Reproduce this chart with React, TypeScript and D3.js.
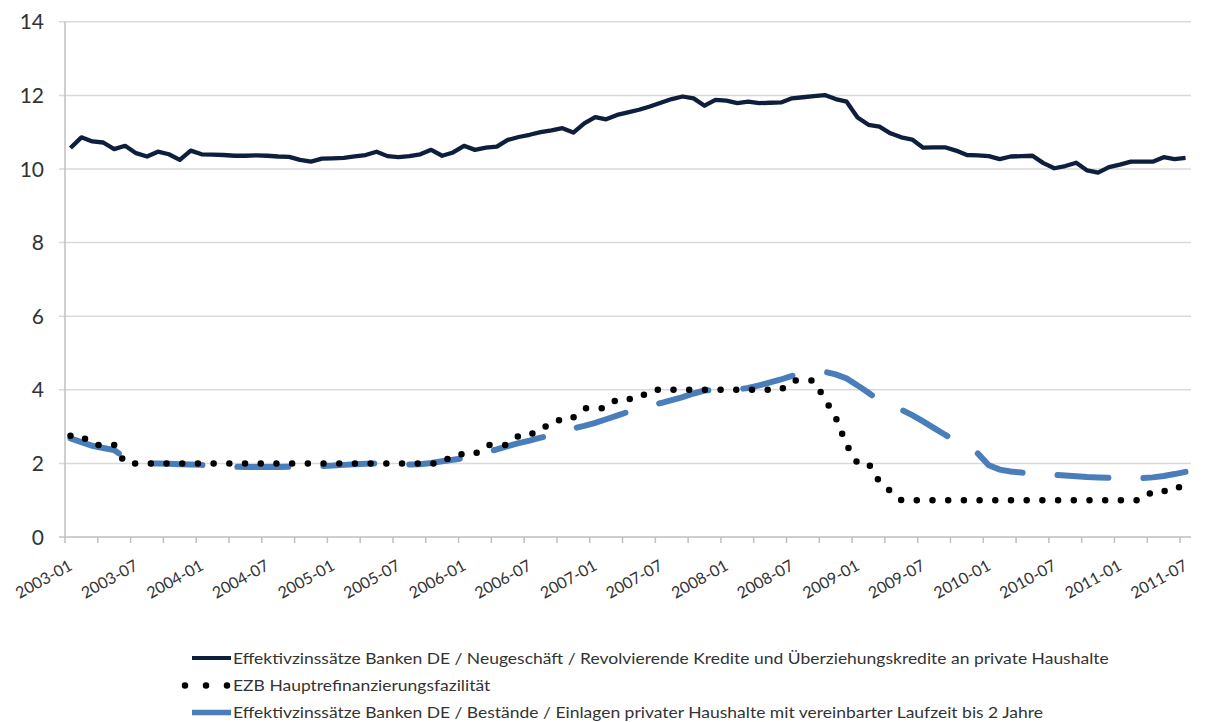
import React from "react";
import * as d3 from "d3";

// monthly categories 2003-01 .. 2011-07
const months = d3
  .timeMonth.range(new Date(2003, 0, 1), new Date(2011, 7, 1))
  .map(d3.timeFormat("%Y-%m"));

const yTicks = [0, 2, 4, 6, 8, 10, 12, 14];

// Effektivzinssätze Neugeschäft / Revolvierende Kredite
const kredite = [
  10.57, 10.86, 10.75, 10.72, 10.54, 10.63, 10.43, 10.34, 10.47, 10.4, 10.25, 10.5,
  10.4, 10.39, 10.38, 10.36, 10.36, 10.37, 10.36, 10.34, 10.33, 10.25, 10.2, 10.28,
  10.29, 10.3, 10.34, 10.38, 10.47, 10.35, 10.32, 10.35, 10.4, 10.52, 10.36, 10.45,
  10.63, 10.52, 10.58, 10.61, 10.79, 10.87, 10.93, 11.0, 11.05, 11.11, 10.99, 11.24,
  11.41, 11.35, 11.47, 11.54, 11.61, 11.7, 11.8, 11.9, 11.97, 11.92, 11.72, 11.88,
  11.86, 11.79, 11.83, 11.79, 11.8, 11.81, 11.92, 11.95, 11.98, 12.01, 11.9, 11.83,
  11.4, 11.2, 11.15, 10.97, 10.86, 10.8, 10.58, 10.59, 10.59, 10.5, 10.38, 10.37,
  10.35, 10.27, 10.34, 10.35, 10.36, 10.16, 10.02, 10.08, 10.17, 9.96, 9.9, 10.05,
  10.12, 10.2, 10.2, 10.2, 10.32, 10.27, 10.3
];

// EZB Hauptrefinanzierungsfazilität
const ezb = [
  2.75, 2.75, 2.5, 2.5, 2.5, 2, 2, 2, 2, 2, 2, 2,
  2, 2, 2, 2, 2, 2, 2, 2, 2, 2, 2, 2,
  2, 2, 2, 2, 2, 2, 2, 2, 2, 2, 2, 2.25,
  2.25, 2.25, 2.5, 2.5, 2.5, 2.75, 2.75, 3, 3, 3.25, 3.25, 3.5,
  3.5, 3.5, 3.75, 3.75, 3.75, 4, 4, 4, 4, 4, 4, 4,
  4, 4, 4, 4, 4, 4, 4.25, 4.25, 4.25, 3.75, 3.25, 2.5,
  2, 2, 1.5, 1.25, 1, 1, 1, 1, 1, 1, 1, 1,
  1, 1, 1, 1, 1, 1, 1, 1, 1, 1, 1, 1,
  1, 1, 1, 1.25, 1.25, 1.25, 1.5
];

// Bestände / Einlagen bis 2 Jahre
const einlagen = [
  2.68, 2.58, 2.48, 2.42, 2.36, 2.15, 2.03, 2.0, 2.0, 1.99, 1.98, 1.97,
  1.96, 1.94, 1.92, 1.91, 1.9, 1.9, 1.9, 1.9, 1.91, 1.92, 1.93, 1.93,
  1.94, 1.96, 1.98, 1.99, 2.0, 1.99, 1.97, 1.97, 1.98, 2.01, 2.06, 2.1,
  2.14, 2.22, 2.3, 2.38, 2.47, 2.55, 2.62, 2.7, 2.77, 2.86, 2.95, 3.02,
  3.1, 3.2, 3.3, 3.4, 3.5, 3.58, 3.64, 3.72, 3.8, 3.9, 3.98, 4.01,
  4.01, 4.01, 4.05, 4.12, 4.2, 4.28, 4.38, 4.44, 4.48, 4.49, 4.42, 4.31,
  4.12, 3.92, 3.7, 3.57, 3.46, 3.31, 3.14, 2.96, 2.78, 2.61, 2.44, 2.27,
  1.95, 1.83, 1.78, 1.75, 1.72, 1.71, 1.69, 1.67, 1.65, 1.63, 1.62, 1.61,
  1.6, 1.6, 1.6, 1.62, 1.66, 1.71, 1.77
];

const legendLabels = [
  "Effektivzinssätze Banken DE / Neugeschäft / Revolvierende Kredite und Überziehungskredite an private Haushalte",
  "EZB Hauptrefinanzierungsfazilität",
  "Effektivzinssätze Banken DE / Bestände / Einlagen privater Haushalte mit vereinbarter Laufzeit bis 2 Jahre"
];

const NAVY = "#0e1f3d";
const BLUE = "#4a7ebb";

export default function App() {
  const width = 1206;
  const height = 722;
  const left = 65;
  const right = 1191;
  const bottom = 537;

  const x = d3.scaleBand().domain(months).range([left, right]);
  const y = d3.scaleLinear().domain([0, 14]).range([bottom, 21.8]);
  const cx = (i) => x(months[i]) + x.bandwidth() / 2;

  const line = d3
    .line()
    .x((d, i) => cx(i))
    .y((d) => y(d));

  const font = "Lato, 'Open Sans', sans-serif";
  const tickIdx = months.map((m, i) => i).filter((i) => i % 3 === 0);
  const labelIdx = months.map((m, i) => i).filter((i) => i % 6 === 0);

  const legendY = [658, 685.5, 712.5];

  return (
    <svg
      width={width}
      height={height}
      style={{ position: "absolute", left: 0, top: 0, background: "#fff" }}
    >
      {/* grid */}
      {yTicks.map((t) => (
        <line
          key={t}
          x1={left - 6}
          x2={right}
          y1={y(t)}
          y2={y(t)}
          stroke={t === 0 ? "#bfbfbf" : "#d9d9d9"}
          strokeWidth={1.5}
        />
      ))}
      <line x1={left} x2={left} y1={y(14)} y2={bottom} stroke="#bfbfbf" strokeWidth={1.5} />
      {yTicks.map((t) => (
        <text
          key={t}
          x={44}
          y={y(t)}
          dy="0.36em"
          textAnchor="end"
          fontFamily={font}
          fontSize={21}
          fill="#333"
        >
          {t}
        </text>
      ))}

      {/* x axis ticks */}
      {tickIdx.map((i) => (
        <line
          key={i}
          x1={x(months[i])}
          x2={x(months[i])}
          y1={bottom}
          y2={bottom + 6}
          stroke="#bfbfbf"
          strokeWidth={1.5}
        />
      ))}
      {labelIdx.map((i) => (
        <text
          key={i}
          transform={`translate(${cx(i) + 3},${bottom + 32}) rotate(-29)`}
          textAnchor="end"
          fontFamily={font}
          fontSize={16}
          fill="#333"
        >
          {months[i]}
        </text>
      ))}

      {/* series */}
      <path
        d={line(einlagen)}
        fill="none"
        stroke={BLUE}
        strokeWidth={6}
        strokeLinecap="round"
        strokeDasharray="51 35"
      />
      <path
        d={line(ezb)}
        fill="none"
        stroke="#000"
        strokeWidth={6.5}
        strokeLinecap="round"
        strokeDasharray="0 15.7"
      />
      <path
        d={line(kredite)}
        fill="none"
        stroke={NAVY}
        strokeWidth={4.3}
        strokeLinejoin="round"
      />

      {/* legend */}
      <line x1={192} x2={231} y1={legendY[0]} y2={legendY[0]} stroke={NAVY} strokeWidth={4} />
      <line
        x1={185}
        x2={228}
        y1={legendY[1]}
        y2={legendY[1]}
        stroke="#000"
        strokeWidth={6.5}
        strokeLinecap="round"
        strokeDasharray="0 21"
      />
      <line x1={192} x2={231} y1={legendY[2]} y2={legendY[2]} stroke={BLUE} strokeWidth={5.5} />
      {legendLabels.map((l, i) => (
        <text
          key={i}
          transform={`translate(233,${legendY[i]}) scale(1.093,1)`}
          dy="0.36em"
          fontFamily={font}
          fontSize={16}
          fill="#333"
        >
          {l}
        </text>
      ))}
    </svg>
  );
}
